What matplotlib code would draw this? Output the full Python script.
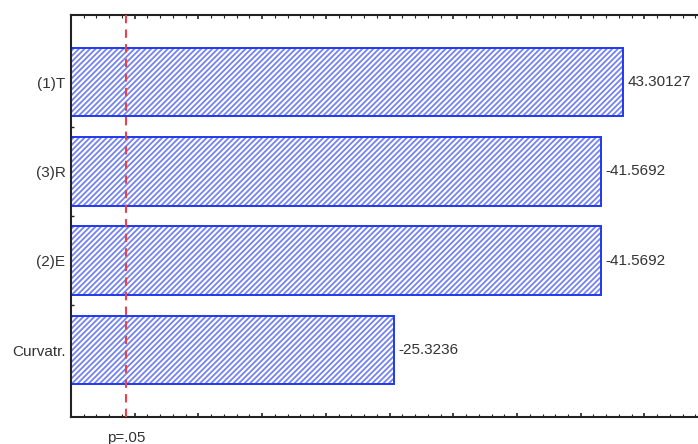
import matplotlib
matplotlib.use("Agg")
import matplotlib.pyplot as plt
import numpy as np
from matplotlib.ticker import MultipleLocator

categories = ["(1)T", "(3)R", "(2)E", "Curvatr."]
effects = [43.30127, -41.5692, -41.5692, -25.3236]
effect_labels = ["43.30127", "-41.5692", "-41.5692", "-25.3236"]
p_crit = 4.303
p_label = "p=.05"

plt.rcParams['font.family'] = ['Liberation Sans', 'DejaVu Sans']
plt.rcParams['hatch.linewidth'] = 1.3

fig = plt.figure(figsize=(6.98, 4.44), dpi=100)
ax = fig.add_axes([0.1017, 0.0608, 0.8983, 0.9054])

y = np.arange(len(categories))
vals = np.abs(effects)
ax.barh(y, vals, height=0.77, left=0, color='white', edgecolor='#7483f0',
        linewidth=0, hatch='//////', zorder=2)
ax.barh(y, vals, height=0.77, left=0, fill=False, edgecolor='#2038f0',
        linewidth=1.4, zorder=2.5)

for yi, v, lab in zip(y, vals, effect_labels):
    ax.text(v + 0.4, yi, lab, va='center', ha='left', fontsize=11, color='#333333')

ax.axvline(p_crit, color='#e8424a', linestyle=(0, (4, 3)), linewidth=1.5, zorder=3)

ax.set_xlim(0, 49.2)
ax.set_ylim(3.75, -0.75)
ax.set_yticks(y)
ax.set_yticklabels(categories, fontsize=11, color='#333333')
ax.set_yticks(y[:-1] + 0.5, minor=True)
ax.xaxis.set_major_locator(MultipleLocator(5))
ax.xaxis.set_minor_locator(MultipleLocator(1))
ax.set_xticklabels([])
ax.tick_params(axis='x', which='both', direction='in', top=True, bottom=True,
               labelbottom=False, color='#222222')
ax.tick_params(axis='x', which='major', length=3, width=1.2)
ax.tick_params(axis='x', which='minor', length=2, width=0.8)
ax.tick_params(axis='y', which='both', direction='in', length=2, width=1, pad=4,
               color='#222222')

for s in ['left', 'bottom', 'top']:
    ax.spines[s].set_linewidth(1.5)
    ax.spines[s].set_color('#222222')
ax.spines['right'].set_visible(False)

ax.text(p_crit, -0.035, p_label, transform=ax.get_xaxis_transform(),
        ha='center', va='top', fontsize=11, color='#333333')

fig.savefig("out.png", dpi=100)
